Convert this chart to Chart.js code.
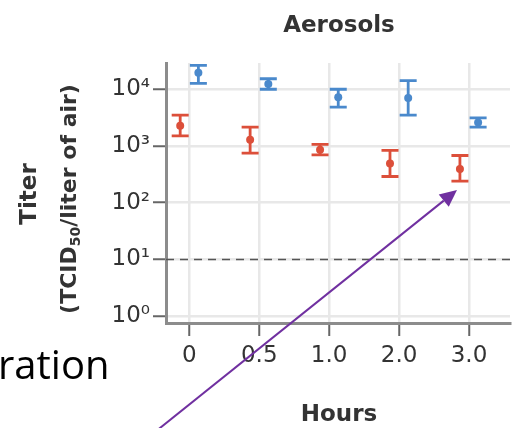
<!DOCTYPE html>
<html>
<head>
<meta charset="utf-8">
<script src="https://cdn.jsdelivr.net/npm/chart.js@4/dist/chart.umd.min.js"></script>
<style>
  html, body { margin: 0; padding: 0; background: #fff; }
  #wrap { width: 514px; height: 428px; position: relative; }
</style>
</head>
<body>
<div id="wrap"><canvas id="c" width="514" height="428"></canvas></div>
<script>
// Sampling times (hours) shown on the x axis
const categories = ['0', '0.5', '1.0', '2.0', '3.0'];

// Red series: titer with lower / upper error limits
const redTiter = [2270, 1290, 860, 490, 395];
const redLow   = [1510, 750, 700, 290, 240];
const redHigh  = [3500, 2150, 1070, 840, 680];

// Blue series: titer with lower / upper error limits
const blueTiter = [19500, 12400, 7240, 7040, 2600];
const blueLow   = [12700, 10000, 4830, 3500, 2150];
const blueHigh  = [26300, 15300, 10000, 14200, 3130];

// Log-axis decades and the detection limit drawn as a dashed line
const yTicks = [1, 10, 100, 1000, 10000];
const detectionLimit = 10;

const RED = '#dc4f3a';
const BLUE = '#4a89cc';
const SHIFT = 0.13; // side-by-side offset of the two series within a time slot

const toPoints = (vals, off) => vals.map((v, i) => ({ x: i + off, y: v }));
const SUP = { '0': '\u2070', '1': '\u00b9', '2': '\u00b2', '3': '\u00b3', '4': '\u2074' };

Chart.defaults.font.family = "'DejaVu Sans', sans-serif";

// Vertical error bars with caps, drawn under the points
const errorBars = {
  id: 'errorBars',
  beforeDatasetsDraw(chart) {
    const { ctx, scales: { x, y } } = chart;
    chart.data.datasets.forEach(ds => {
      if (!ds.errLow) return;
      ctx.save();
      ctx.strokeStyle = ds.borderColor;
      ctx.lineWidth = 2.8;
      const cap = 8.5;
      ds.data.forEach((p, i) => {
        const px = x.getPixelForValue(p.x);
        const top = y.getPixelForValue(ds.errHigh[i]);
        const bot = y.getPixelForValue(ds.errLow[i]);
        ctx.beginPath();
        ctx.moveTo(px, top); ctx.lineTo(px, bot);
        ctx.moveTo(px - cap, top); ctx.lineTo(px + cap, top);
        ctx.moveTo(px - cap, bot); ctx.lineTo(px + cap, bot);
        ctx.stroke();
      });
      ctx.restore();
    });
  }
};

// Titles, side text and the annotation arrow
const decorations = {
  id: 'decorations',
  afterDraw(chart) {
    const ctx = chart.ctx;
    ctx.save();
    ctx.fillStyle = '#333';
    ctx.textAlign = 'center';
    ctx.textBaseline = 'alphabetic';
    ctx.font = "bold 23px 'DejaVu Sans'";
    ctx.fillText('Aerosols', 339, 32);
    ctx.fillText('Hours', 339, 421);

    // rotated y-axis title, second line with subscript
    ctx.save();
    ctx.translate(30, 194);
    ctx.rotate(-Math.PI / 2);
    ctx.textBaseline = 'middle';
    ctx.fillText('Titer', 0, 0);
    ctx.restore();

    ctx.save();
    ctx.translate(70, 199);
    ctx.rotate(-Math.PI / 2);
    ctx.textBaseline = 'middle';
    ctx.textAlign = 'left';
    const big = "bold 22px 'DejaVu Sans'";
    const small = "bold 14px 'DejaVu Sans'";
    const parts = [['(TCID', big, 0], ['50', small, 6], ['/liter of air)', big, 0]];
    let total = 0;
    parts.forEach(([t, f]) => { ctx.font = f; total += ctx.measureText(t).width; });
    let cx = -total / 2;
    parts.forEach(([t, f, dy]) => {
      ctx.font = f;
      ctx.fillText(t, cx, dy);
      cx += ctx.measureText(t).width;
    });
    ctx.restore();

    // partial heading text at the left edge
    ctx.fillStyle = '#000';
    ctx.textAlign = 'left';
    ctx.font = "40px 'Open Sans'";
    ctx.fillText('ration', -2, 379);

    // purple arrow
    const tipX = 457, tipY = 190;
    const startX = 150, startY = 436;
    const ang = Math.atan2(tipY - startY, tipX - startX);
    const headLen = 17, headW = 8;
    const baseX = tipX - headLen * Math.cos(ang);
    const baseY = tipY - headLen * Math.sin(ang);
    ctx.strokeStyle = '#7030a0';
    ctx.fillStyle = '#7030a0';
    ctx.lineWidth = 2;
    ctx.beginPath();
    ctx.moveTo(startX, startY);
    ctx.lineTo(baseX, baseY);
    ctx.stroke();
    ctx.beginPath();
    ctx.moveTo(tipX, tipY);
    ctx.lineTo(baseX + headW * Math.sin(ang), baseY - headW * Math.cos(ang));
    ctx.lineTo(baseX - headW * Math.sin(ang), baseY + headW * Math.cos(ang));
    ctx.closePath();
    ctx.fill();
    ctx.restore();
  }
};

new Chart(document.getElementById('c'), {
  type: 'scatter',
  data: {
    datasets: [
      {
        label: 'limit',
        type: 'line',
        data: [{ x: -0.333, y: detectionLimit }, { x: 4.586, y: detectionLimit }],
        borderColor: '#555',
        borderWidth: 1.5,
        borderDash: [8, 6],
        pointRadius: 0,
        fill: false
      },
      {
        label: 'red',
        data: toPoints(redTiter, -SHIFT),
        errLow: redLow,
        errHigh: redHigh,
        backgroundColor: RED,
        borderColor: RED,
        pointRadius: 4,
        pointBorderWidth: 0
      },
      {
        label: 'blue',
        data: toPoints(blueTiter, SHIFT),
        errLow: blueLow,
        errHigh: blueHigh,
        backgroundColor: BLUE,
        borderColor: BLUE,
        pointRadius: 4,
        pointBorderWidth: 0
      }
    ]
  },
  options: {
    responsive: false,
    devicePixelRatio: 1,
    animation: false,
    layout: { padding: { top: 63, right: 4, left: 0, bottom: 0 } },
    plugins: { legend: { display: false }, tooltip: { enabled: false }, title: { display: false } },
    scales: {
      x: {
        type: 'linear',
        min: -0.333,
        max: 4.586,
        afterBuildTicks: s => { s.ticks = categories.map((c, i) => ({ value: i })); },
        afterFit: s => { s.height = 105; },
        ticks: {
          callback: (v) => categories[v],
          color: '#333',
          font: { size: 23 },
          padding: 6,
          maxRotation: 0
        },
        grid: { color: '#e8e8e8', lineWidth: 2.5, tickColor: '#666', tickLength: 13, tickWidth: 2 },
        border: { color: '#8c8c8c', width: 3 }
      },
      y: {
        type: 'logarithmic',
        min: 0.76,
        max: 29000,
        afterBuildTicks: s => { s.ticks = yTicks.map(v => ({ value: v })); },
        afterFit: s => { s.width = 166; },
        ticks: {
          callback: (v) => '10' + SUP[String(Math.round(Math.log10(v)))],
          color: '#333',
          font: { size: 23 },
          padding: 3
        },
        grid: { color: '#e8e8e8', lineWidth: 2.5, tickColor: '#666', tickLength: 13, tickWidth: 2 },
        border: { color: '#8c8c8c', width: 3 }
      }
    }
  },
  plugins: [errorBars, decorations]
});
</script>
</body>
</html>
